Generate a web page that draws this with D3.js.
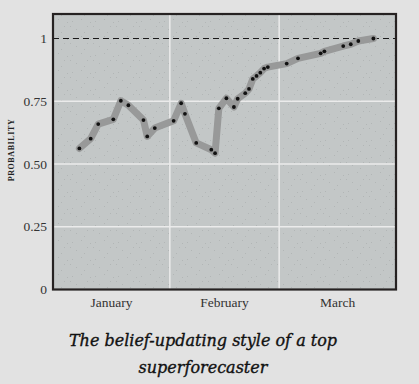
<!DOCTYPE html>
<html>
<head>
<meta charset="utf-8">
<script src="https://cdn.jsdelivr.net/npm/d3@7"></script>
<style>
  body { margin: 0; background: #e2e2e2; }
  svg { display: block; }
</style>
</head>
<body>
<svg></svg>
<script>
// forecast updates: date and probability
var dates = ["2020-01-08", "2020-01-11", "2020-01-13", "2020-01-17", "2020-01-19", "2020-01-21",
  "2020-01-25", "2020-01-26", "2020-01-28", "2020-02-02", "2020-02-04", "2020-02-05",
  "2020-02-08", "2020-02-12", "2020-02-13", "2020-02-14", "2020-02-16", "2020-02-18",
  "2020-02-19", "2020-02-21", "2020-02-22", "2020-02-23", "2020-02-24", "2020-02-25",
  "2020-02-26", "2020-02-27", "2020-03-03", "2020-03-06", "2020-03-12", "2020-03-13",
  "2020-03-18", "2020-03-20", "2020-03-22", "2020-03-26"];
var probs = [0.562, 0.601, 0.659, 0.678, 0.752, 0.734,
  0.675, 0.610, 0.643, 0.672, 0.742, 0.700,
  0.584, 0.557, 0.543, 0.722, 0.762, 0.727,
  0.760, 0.782, 0.799, 0.839, 0.851, 0.864,
  0.880, 0.886, 0.900, 0.921, 0.941, 0.949,
  0.970, 0.977, 0.990, 1.0];
var months = ["January", "February", "March"];
var yTicks = [0, 0.25, 0.5, 0.75, 1];
var yTickLabels = ["0", "0.25", "0.50", "0.75", "1"];

var svgWidth = 419;
var svgHeight = 384;
var plotLeft = 53, plotRight = 396, plotTop = 14, plotBottom = 289.5;

var parse = d3.timeParse("%Y-%m-%d");
var points = dates.map(function(d, i) {
  return { date: parse(d), p: probs[i] };
});

var xScale = d3.scaleTime()
  .domain([new Date(2020, 0, 1), new Date(2020, 3, 1)])
  .range([plotLeft, plotRight]);
var yScale = d3.scaleLinear()
  .domain([0, 1])
  .range([plotBottom, 38.5]);

var svg = d3.select("svg")
  .attr("width", svgWidth)
  .attr("height", svgHeight);

// speckled fill for the plot area
var defs = svg.append("defs");
var pat = defs.append("pattern")
  .attr("id", "speck")
  .attr("patternUnits", "userSpaceOnUse")
  .attr("width", 23).attr("height", 17);
pat.append("rect").attr("width", 23).attr("height", 17).attr("fill", "#c3c7c7");
[[3, 4], [12, 2], [18, 9], [7, 12], [15, 15], [21, 5], [1, 9]].forEach(function(p) {
  pat.append("rect").attr("x", p[0]).attr("y", p[1])
    .attr("width", 1).attr("height", 1).attr("fill", "#b2b6b6");
});

svg.append("rect")
  .attr("x", plotLeft).attr("y", plotTop)
  .attr("width", plotRight - plotLeft).attr("height", plotBottom - plotTop)
  .attr("fill", "url(#speck)");

// gridlines
var monthStarts = [new Date(2020, 1, 1), new Date(2020, 2, 1)];
svg.selectAll(".vgrid")
  .data(monthStarts)
  .enter()
  .append("line")
  .attr("x1", function(d) { return xScale(d); })
  .attr("x2", function(d) { return xScale(d); })
  .attr("y1", plotTop).attr("y2", plotBottom)
  .attr("stroke", "#ebebeb")
  .attr("stroke-width", 1.5);

svg.selectAll(".hgrid")
  .data([0.25, 0.5, 0.75])
  .enter()
  .append("line")
  .attr("x1", plotLeft).attr("x2", plotRight)
  .attr("y1", function(d) { return yScale(d); })
  .attr("y2", function(d) { return yScale(d); })
  .attr("stroke", "#ebebeb")
  .attr("stroke-width", 1.5);

// certainty line
svg.append("line")
  .attr("x1", plotLeft).attr("x2", plotRight)
  .attr("y1", yScale(1)).attr("y2", yScale(1))
  .attr("stroke", "#1a1a1a")
  .attr("stroke-width", 1.2)
  .attr("stroke-dasharray", "6,4");

// forecast path
var line = d3.line()
  .x(function(d) { return xScale(d.date); })
  .y(function(d) { return yScale(d.p); });

svg.append("path")
  .datum(points)
  .attr("d", line)
  .attr("fill", "none")
  .attr("stroke", "#989999")
  .attr("stroke-width", 7)
  .attr("stroke-linejoin", "round")
  .attr("stroke-linecap", "round");

svg.selectAll(".pt")
  .data(points)
  .enter()
  .append("circle")
  .attr("cx", function(d) { return xScale(d.date); })
  .attr("cy", function(d) { return yScale(d.p); })
  .attr("r", 1.9)
  .attr("fill", "#111");

// frame
svg.append("rect")
  .attr("x", plotLeft).attr("y", plotTop)
  .attr("width", plotRight - plotLeft).attr("height", plotBottom - plotTop)
  .attr("fill", "none")
  .attr("stroke", "#262222")
  .attr("stroke-width", 2.2);

// y tick labels
svg.selectAll(".ylab")
  .data(yTicks)
  .enter()
  .append("text")
  .text(function(d, i) { return yTickLabels[i]; })
  .attr("x", 47)
  .attr("y", function(d) { return yScale(d) + 4.5; })
  .attr("text-anchor", "end")
  .attr("font-family", "'Liberation Serif', serif")
  .attr("font-size", "13.5px")
  .attr("fill", "#333");

// month labels centred in each month
svg.selectAll(".mlab")
  .data(months)
  .enter()
  .append("text")
  .text(function(d) { return d; })
  .attr("x", function(d, i) {
    return (xScale(new Date(2020, i, 1)) + xScale(new Date(2020, i + 1, 1))) / 2;
  })
  .attr("y", 307)
  .attr("text-anchor", "middle")
  .attr("font-family", "'Liberation Serif', serif")
  .attr("font-size", "13.5px")
  .attr("fill", "#333");

// y axis title
svg.append("text")
  .text("PROBABILITY")
  .attr("transform", "translate(14,150) rotate(-90)")
  .attr("text-anchor", "middle")
  .attr("font-family", "'Liberation Serif', serif")
  .attr("font-size", "8px")
  .attr("font-weight", "bold")
  .attr("letter-spacing", "0.6px")
  .attr("fill", "#222");

// caption
var caption = ["The belief-updating style of a top", "superforecaster"];
svg.selectAll(".cap")
  .data(caption)
  .enter()
  .append("text")
  .text(function(d) { return d; })
  .attr("x", 203)
  .attr("y", function(d, i) { return 346 + i * 27; })
  .attr("text-anchor", "middle")
  .attr("font-family", "'DejaVu Serif', serif")
  .attr("font-style", "italic")
  .attr("font-size", "16px")
  .attr("fill", "#111")
  .attr("stroke", "#111")
  .attr("stroke-width", 0.35);
</script>
</body>
</html>
